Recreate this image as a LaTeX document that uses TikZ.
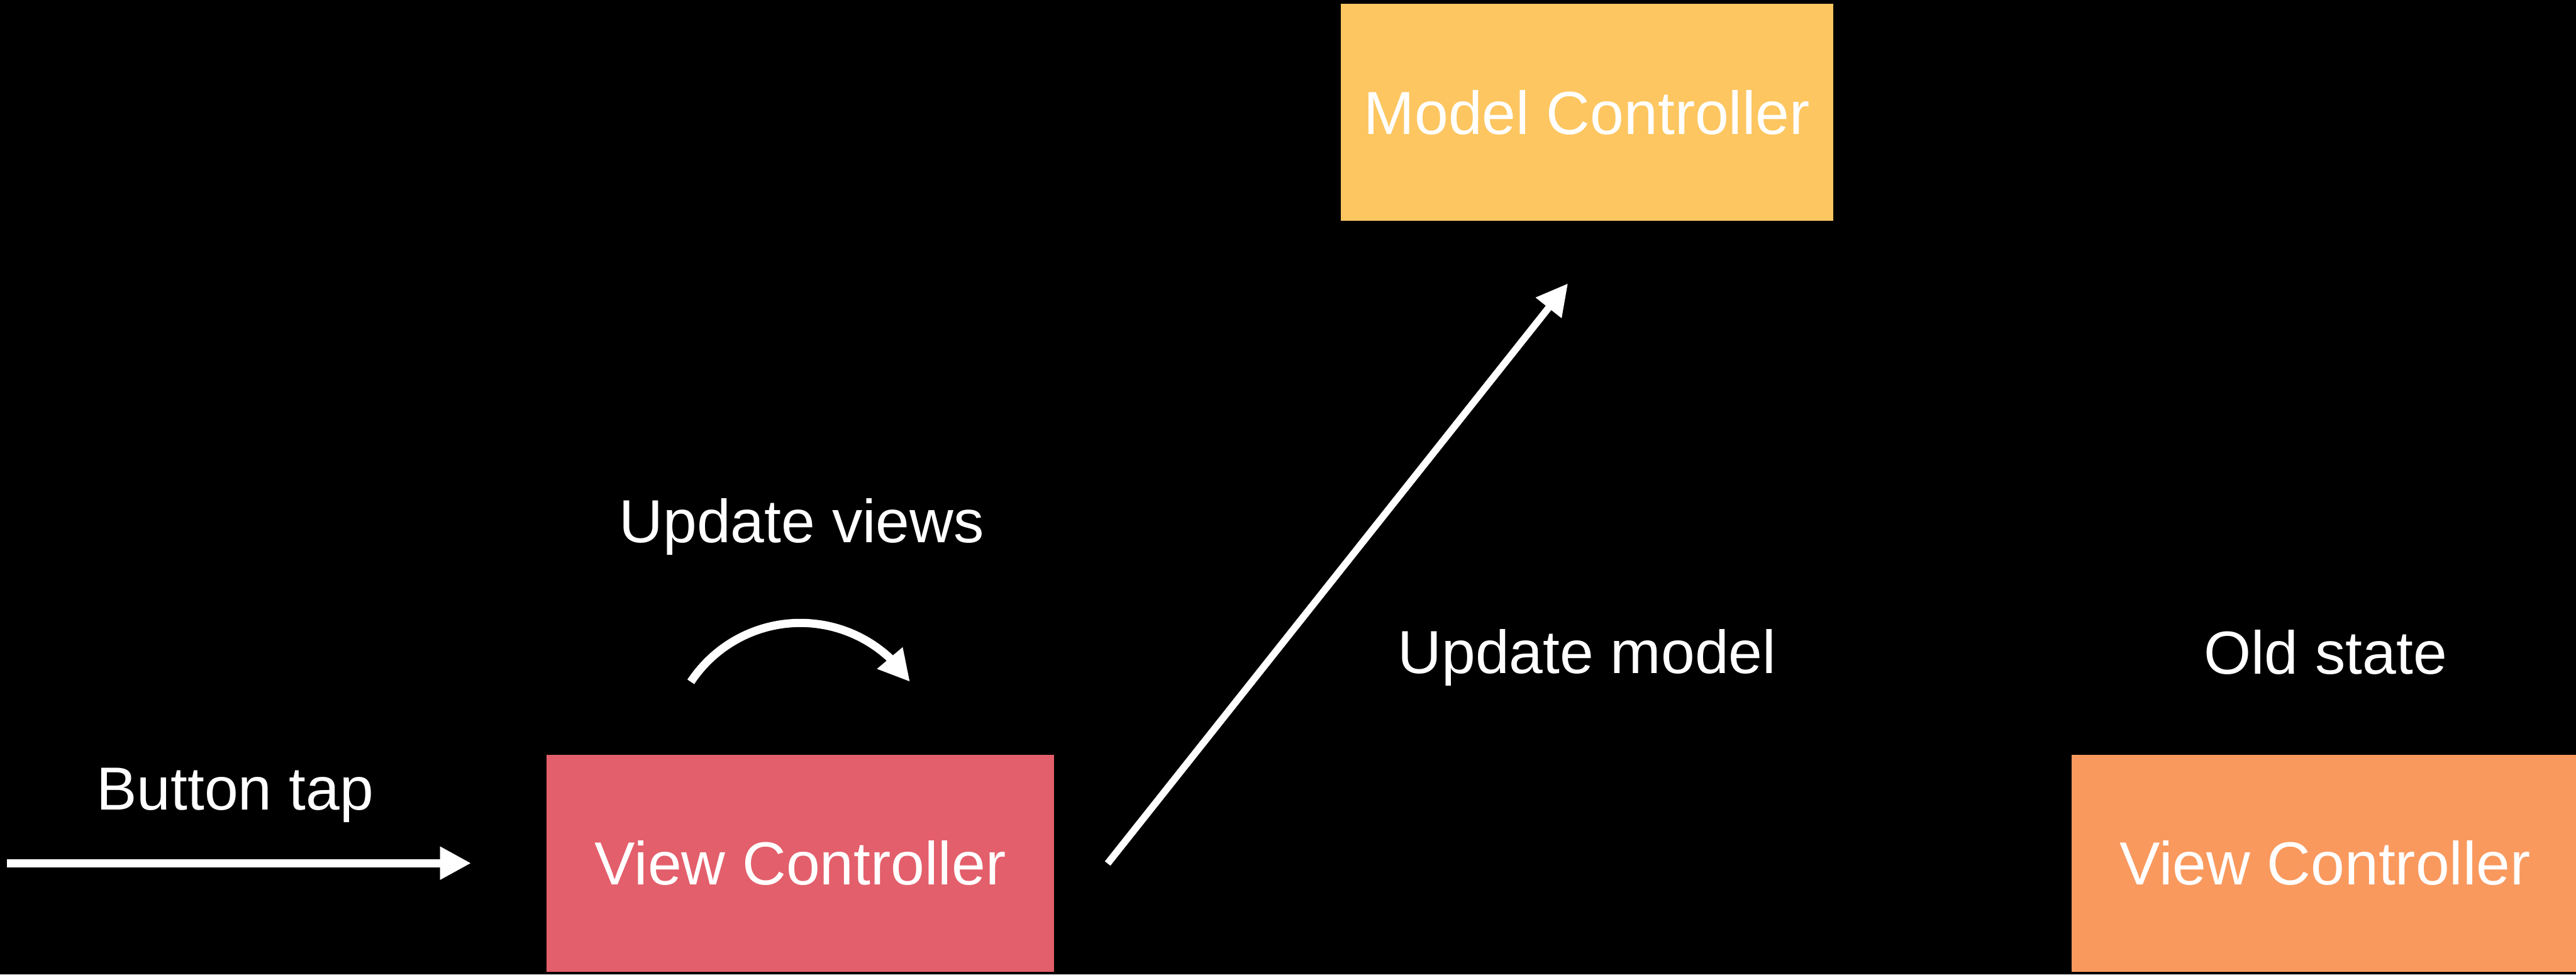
\documentclass[tikz,border=0pt]{standalone}
\usepackage{fontspec}
\setmainfont{Liberation Sans}
\usetikzlibrary{arrows.meta,bending}
\definecolor{mcyellow}{HTML}{FDC660}
\definecolor{vcred}{HTML}{E35F6B}
\definecolor{vcorange}{HTML}{F9995E}
\begin{document}
\begin{tikzpicture}[x=1pt,y=1pt,
  lbl/.style={text=white, font=\fontsize{37}{44}\selectfont, inner sep=0pt, anchor=base},
  box/.style={minimum height=132pt, inner sep=0pt, text=white,
    font=\fontsize{37}{44}\selectfont, text height=26.5pt, text depth=0pt},
  arr/.style={draw=white, line width=5pt, -{Triangle[length=19pt,width=19pt]}},
  thinarr/.style={arr, line width=4.3pt}]
\fill[black] (0,0) rectangle (1568,593);
\useasboundingbox (0,0) rectangle (1568,593);

\node[box, fill=mcyellow, minimum width=300pt] (model) at (966,524.5) {Model Controller};
\node[box, fill=vcred, minimum width=309pt] (vc) at (487.2,67.7) {View Controller};
\node[box, fill=vcorange, minimum width=309pt] (old) at (1415.3,67.7) {View Controller};

\node[lbl] (tap) at (143,100.3) {Button tap};
\node[lbl] (upv) at (488,262.8) {Update views};
\node[lbl] (upm) at (966,183.2) {Update model};
\node[lbl] (olds) at (1415.5,183) {Old state};

\coordinate (tapstart) at (4.2,67.7);
\coordinate (tapend) at ([xshift=-45.7pt]vc.west);
\draw[arr] (tapstart) -- (tapend);

\coordinate (mstart) at ([xshift=32.3pt,yshift=-0.2pt]vc.east);
\coordinate (mend) at ([xshift=-11.6pt,yshift=-37.8pt]model.south);
\draw[thinarr] (mstart) -- (mend);

\draw[arr] ([shift={(146.5:80)}]vc.north) arc[start angle=146.5, end angle=33.5, radius=80];
\end{tikzpicture}
\end{document}
